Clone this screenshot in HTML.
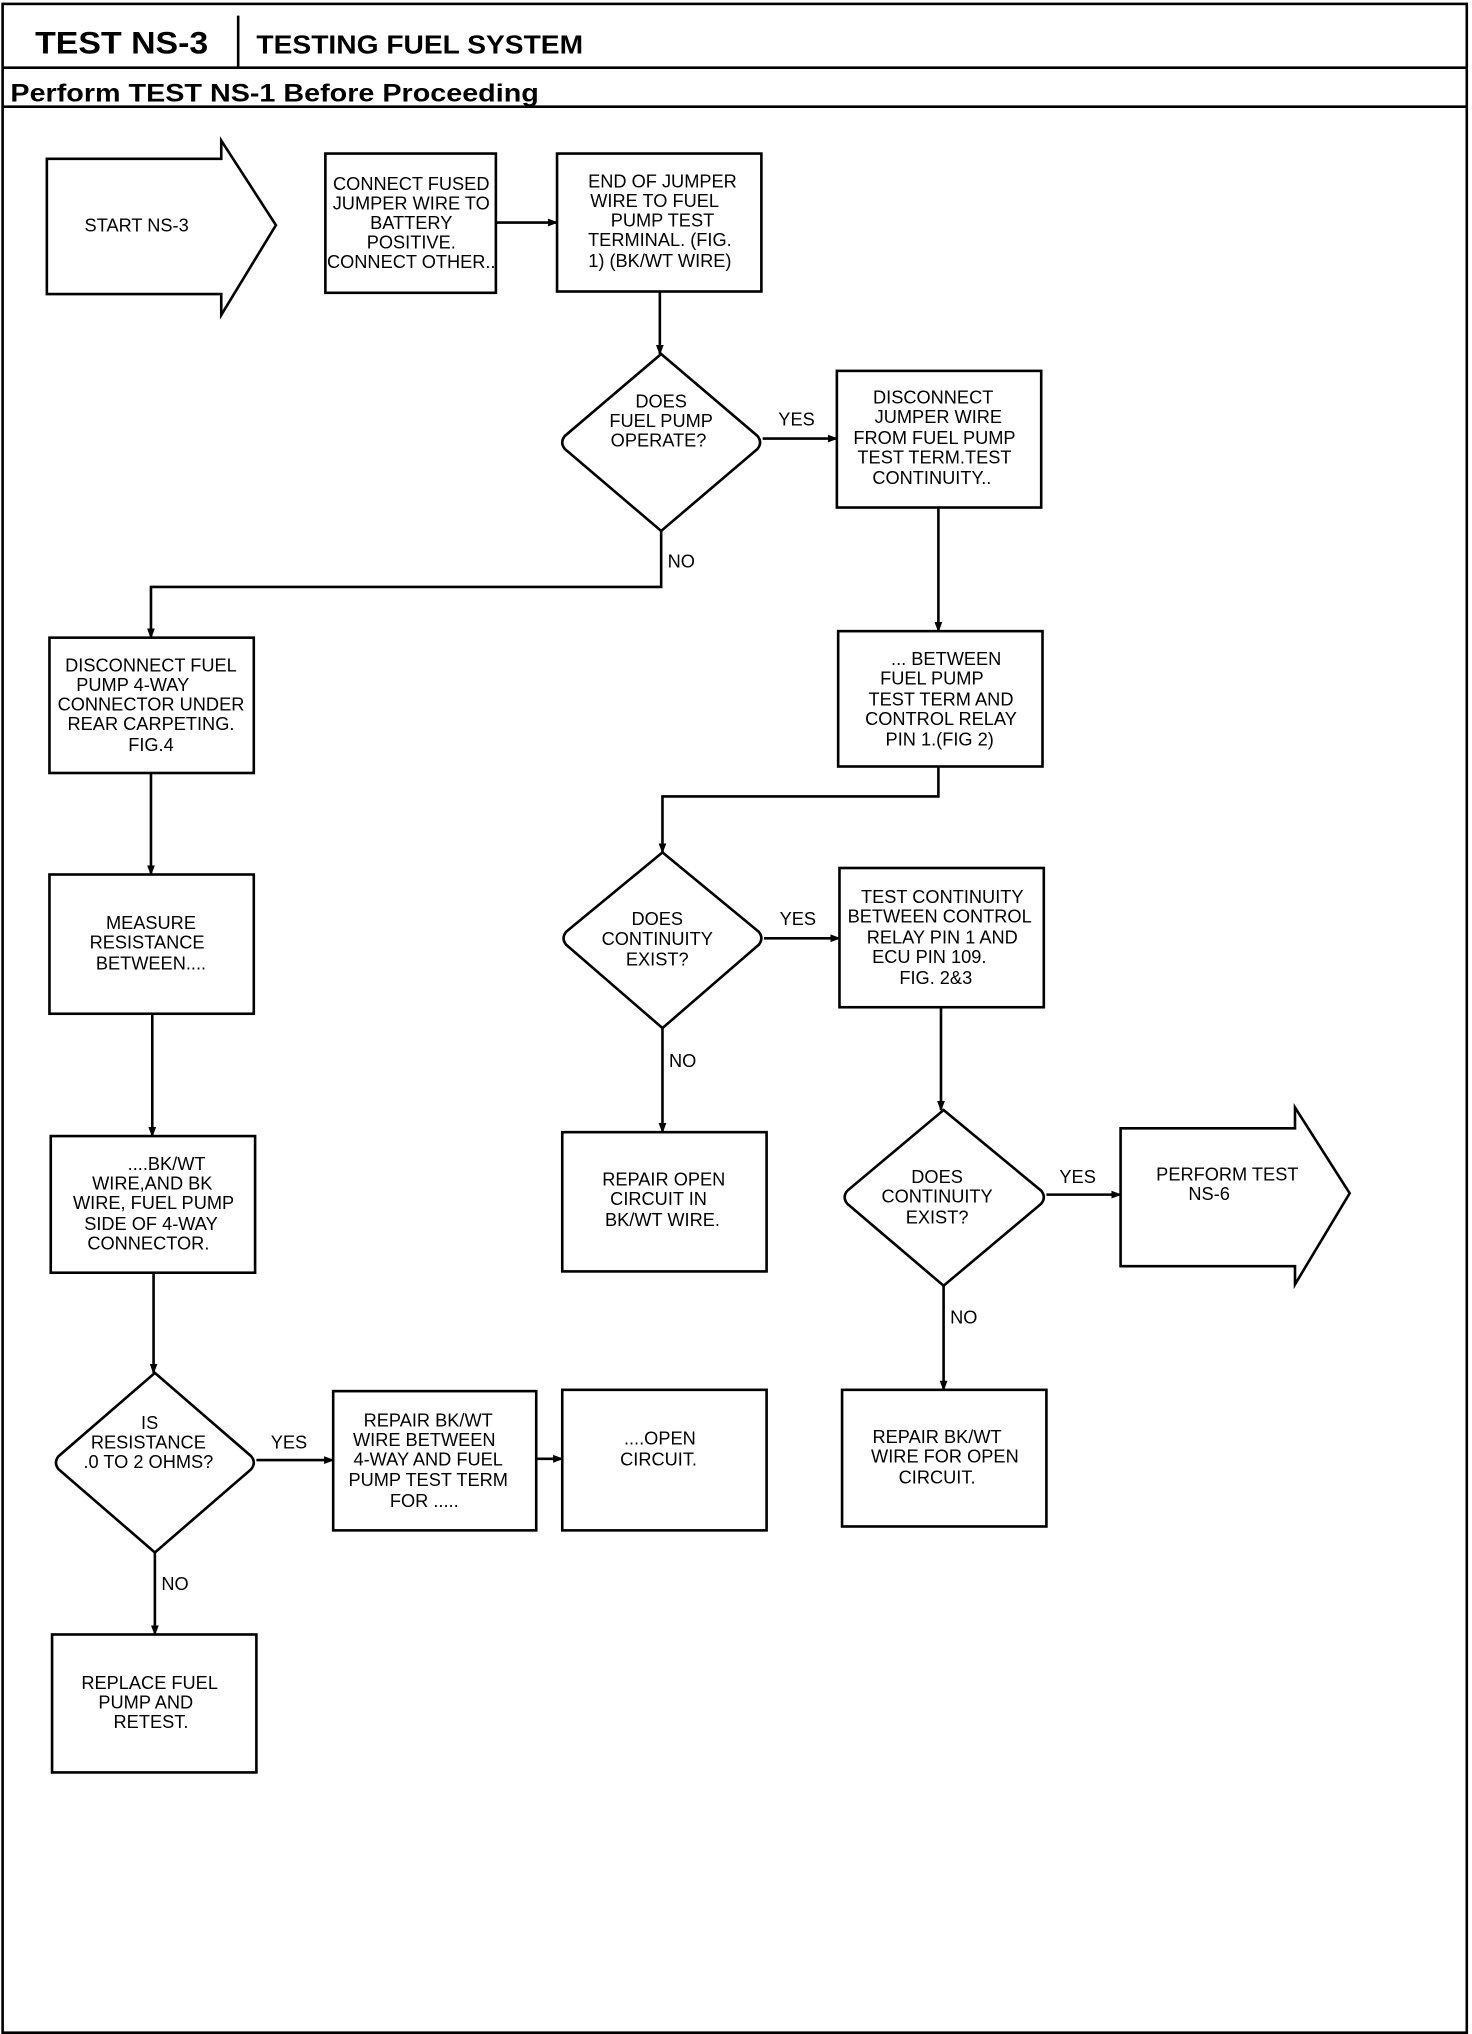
<!DOCTYPE html>
<html><head><meta charset="utf-8"><style>
html,body{margin:0;padding:0;background:#fff;}
svg{display:block;}
.t{font-family:"Liberation Sans Narrow","Liberation Sans",sans-serif;font-size:14px;text-anchor:middle;fill:#000;}
.l{font-family:"Liberation Sans Narrow","Liberation Sans",sans-serif;font-size:14px;fill:#000;}
.s{fill:none;stroke:#000;stroke-width:2;}
</style></head><body>
<svg width="1472" height="2034" viewBox="0 0 1131 1563" preserveAspectRatio="none" xmlns="http://www.w3.org/2000/svg">
<defs><marker id="a" markerWidth="8" markerHeight="8" refX="7" refY="4" orient="auto" markerUnits="userSpaceOnUse"><path d="M0,1 L8,4 L0,7 Z" fill="#000"/></marker></defs>
<rect x="2" y="3" width="1125" height="1559" class="s"/>
<line x1="2" y1="52" x2="1127" y2="52" class="s" stroke-width="1.5"/>
<line x1="183" y1="12" x2="183" y2="52" class="s" stroke-width="1.5"/>
<line x1="2" y1="82" x2="1127" y2="82" class="s" stroke-width="2.5"/>
<text x="27" y="41" textLength="133" lengthAdjust="spacingAndGlyphs" style="font-family:'Liberation Sans',sans-serif;font-weight:bold;font-size:24px">TEST NS-3</text>
<text x="197" y="41" textLength="251" lengthAdjust="spacingAndGlyphs" style="font-family:'Liberation Sans',sans-serif;font-weight:bold;font-size:20px">TESTING FUEL SYSTEM</text>
<text x="8" y="78" textLength="406" lengthAdjust="spacingAndGlyphs" style="font-family:'Liberation Sans',sans-serif;font-weight:bold;font-size:19px">Perform TEST NS-1 Before Proceeding</text>

<path d="M36,122 L170,122 L170,108 L212,173 L170,242 L170,226 L36,226 Z" class="s"/>
<text class="t" x="105" y="178">START NS-3</text>

<rect x="250" y="118" width="131" height="107" class="s"/>
<g class="t"><text x="316" y="146">CONNECT FUSED</text><text x="316" y="161">JUMPER WIRE TO</text><text x="316" y="176">BATTERY</text><text x="316" y="191">POSITIVE.</text><text x="316" y="206">CONNECT OTHER..</text></g>
<line x1="381" y1="171" x2="428" y2="171" class="s" marker-end="url(#a)"/>
<rect x="428" y="118" width="157" height="106" class="s"/>
<g class="t"><text x="509" y="144">END OF JUMPER</text><text x="503" y="159">WIRE TO FUEL</text><text x="509" y="174">PUMP TEST</text><text x="507" y="189">TERMINAL. (FIG.</text><text x="507" y="205">1) (BK/WT WIRE)</text></g>
<line x1="507" y1="224" x2="507" y2="272" class="s" marker-end="url(#a)"/>

<path d="M508,272 L582,335 Q586,340 582,345 L508,408 L434,345 Q430,340 434,335 Z" class="s"/>
<g class="t"><text x="508" y="313">DOES</text><text x="508" y="328">FUEL PUMP</text><text x="506" y="343">OPERATE?</text></g>
<text class="l" x="598" y="327">YES</text>
<line x1="586" y1="337" x2="643" y2="337" class="s" marker-end="url(#a)"/>
<rect x="643" y="285" width="157" height="105" class="s"/>
<g class="t"><text x="717" y="310">DISCONNECT</text><text x="721" y="325">JUMPER WIRE</text><text x="718" y="341">FROM FUEL PUMP</text><text x="718" y="356">TEST TERM.TEST</text><text x="716" y="372">CONTINUITY..</text></g>
<line x1="721" y1="390" x2="721" y2="485" class="s" marker-end="url(#a)"/>
<rect x="644" y="485" width="157" height="104" class="s"/>
<g class="t"><text x="727" y="511">... BETWEEN</text><text x="716" y="526">FUEL PUMP</text><text x="723" y="542">TEST TERM AND</text><text x="723" y="557">CONTROL RELAY</text><text x="722" y="573">PIN 1.(FIG 2)</text></g>
<polyline points="721,589 721,612 509,612 509,655" class="s" marker-end="url(#a)"/>

<polyline points="508,408 508,451 116,451 116,490" class="s" marker-end="url(#a)"/>
<text class="l" x="513" y="436">NO</text>
<rect x="38" y="490" width="157" height="104" class="s"/>
<g class="t"><text x="116" y="516">DISCONNECT FUEL</text><text x="102" y="531">PUMP 4-WAY</text><text x="116" y="546">CONNECTOR UNDER</text><text x="116" y="561">REAR CARPETING.</text><text x="116" y="577">FIG.4</text></g>
<line x1="116" y1="594" x2="116" y2="672" class="s" marker-end="url(#a)"/>
<rect x="38" y="672" width="157" height="107" class="s"/>
<g class="t"><text x="116" y="714">MEASURE</text><text x="113" y="729">RESISTANCE</text><text x="116" y="745">BETWEEN....</text></g>
<line x1="117" y1="779" x2="117" y2="873" class="s" marker-end="url(#a)"/>
<rect x="39" y="873" width="157" height="105" class="s"/>
<g class="t"><text x="128" y="899">....BK/WT</text><text x="117" y="914">WIRE,AND BK</text><text x="118" y="929">WIRE, FUEL PUMP</text><text x="116" y="945">SIDE OF 4-WAY</text><text x="114" y="960">CONNECTOR.</text></g>
<line x1="118" y1="978" x2="118" y2="1055" class="s" marker-end="url(#a)"/>
<path d="M119,1055 L193,1119 Q197,1124 193,1129 L119,1193 L45,1129 Q41,1124 45,1119 Z" class="s"/>
<g class="t"><text x="115" y="1098">IS</text><text x="114" y="1113">RESISTANCE</text><text x="114" y="1128">.0 TO 2 OHMS?</text></g>
<text class="l" x="208" y="1113">YES</text>
<line x1="197" y1="1122" x2="256" y2="1122" class="s" marker-end="url(#a)"/>
<rect x="256" y="1069" width="156" height="107" class="s"/>
<g class="t"><text x="329" y="1096">REPAIR BK/WT</text><text x="326" y="1111">WIRE BETWEEN</text><text x="329" y="1126">4-WAY AND FUEL</text><text x="329" y="1142">PUMP TEST TERM</text><text x="326" y="1158">FOR .....</text></g>
<line x1="412" y1="1121" x2="432" y2="1121" class="s" marker-end="url(#a)"/>
<rect x="432" y="1068" width="157" height="108" class="s"/>
<g class="t"><text x="507" y="1110">....OPEN</text><text x="506" y="1126">CIRCUIT.</text></g>
<line x1="119" y1="1193" x2="119" y2="1256" class="s" marker-end="url(#a)"/>
<text class="l" x="124" y="1222">NO</text>
<rect x="40" y="1256" width="157" height="106" class="s"/>
<g class="t"><text x="115" y="1298">REPLACE FUEL</text><text x="112" y="1313">PUMP AND</text><text x="116" y="1328">RETEST.</text></g>

<path d="M509,655 L583,716 Q587,721 583,726 L509,790 L435,726 Q431,721 435,716 Z" class="s"/>
<g class="t"><text x="505" y="711">DOES</text><text x="505" y="726">CONTINUITY</text><text x="505" y="742">EXIST?</text></g>
<text class="l" x="599" y="711">YES</text>
<line x1="587" y1="721" x2="645" y2="721" class="s" marker-end="url(#a)"/>
<rect x="645" y="667" width="157" height="107" class="s"/>
<g class="t"><text x="724" y="694">TEST CONTINUITY</text><text x="722" y="709">BETWEEN CONTROL</text><text x="724" y="725">RELAY PIN 1 AND</text><text x="714" y="740">ECU PIN 109.</text><text x="719" y="756">FIG. 2&amp;3</text></g>
<line x1="509" y1="790" x2="509" y2="870" class="s" marker-end="url(#a)"/>
<text class="l" x="514" y="820">NO</text>
<rect x="432" y="870" width="157" height="107" class="s"/>
<g class="t"><text x="510" y="911">REPAIR OPEN</text><text x="506" y="926">CIRCUIT IN</text><text x="509" y="942">BK/WT WIRE.</text></g>
<line x1="723" y1="774" x2="723" y2="853" class="s" marker-end="url(#a)"/>
<path d="M725,853 L800,915 Q804,920 800,925 L725,988 L651,925 Q647,920 651,915 Z" class="s"/>
<g class="t"><text x="720" y="909">DOES</text><text x="720" y="924">CONTINUITY</text><text x="720" y="940">EXIST?</text></g>
<text class="l" x="814" y="909">YES</text>
<line x1="804" y1="918" x2="861" y2="918" class="s" marker-end="url(#a)"/>
<path d="M861,867 L995,867 L995,851 L1037,917 L995,987 L995,973 L861,973 Z" class="s"/>
<g class="t"><text x="943" y="907">PERFORM TEST</text><text x="929" y="922">NS-6</text></g>
<line x1="725" y1="988" x2="725" y2="1068" class="s" marker-end="url(#a)"/>
<text class="l" x="730" y="1017">NO</text>
<rect x="647" y="1068" width="157" height="105" class="s"/>
<g class="t"><text x="720" y="1109">REPAIR BK/WT</text><text x="726" y="1124">WIRE FOR OPEN</text><text x="720" y="1140">CIRCUIT.</text></g>
</svg>
</body></html>
